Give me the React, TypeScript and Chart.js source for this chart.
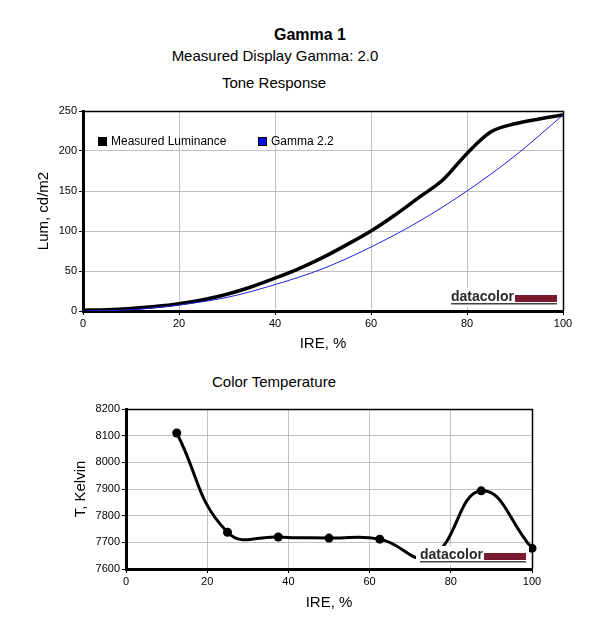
import { useEffect, useRef } from "react";
import Chart from "chart.js/auto";

const FONT = '"Liberation Sans", Arial, sans-serif';

// Tone Response - measured curve (IRE %, cd/m2)
const measuredIre = [0, 5, 10, 15, 20, 25, 30, 35, 40, 45, 50, 55, 60, 65, 70, 75, 80, 85, 90, 95, 100];
const measuredLum = [1, 1.5, 3, 5.5, 9, 14, 21, 30, 41, 53, 67, 83, 100, 120, 142, 164, 197, 224, 234, 240, 245];

// Tone Response - gamma 2.2 target
const gammaIre = [0, 10, 20, 30, 40, 50, 60, 70, 80, 90, 100];
const gammaLum = [0, 1.5, 7.5, 17, 33, 53, 80, 112, 150, 194, 245];

// Color Temperature
const tempIre = [12.5, 25, 37.5, 50, 62.5, 75, 87.5, 100];
const tempKelvin = [8110, 7738, 7720, 7716, 7712, 7645, 7893, 7678];

const toPoints = (xs: number[], ys: number[]) => xs.map((x, i) => ({ x, y: ys[i] }));

// thin black frame on top and right of the plot
const framePlugin = {
  id: "frame",
  beforeDatasetsDraw(chart: any) {
    const { ctx, chartArea: a } = chart;
    ctx.save();
    ctx.strokeStyle = "#000";
    ctx.lineWidth = 1.5;
    ctx.beginPath();
    ctx.moveTo(a.left, a.top + 0.5);
    ctx.lineTo(a.right + 0.5, a.top + 0.5);
    ctx.lineTo(a.right + 0.5, a.bottom);
    ctx.stroke();
    ctx.restore();
  },
};

// "datacolor" mark in the bottom right corner
const logoPlugin = {
  id: "logo",
  afterDatasetsDraw(chart: any) {
    const { ctx, chartArea: a } = chart;
    const r = a.right;
    const b = a.bottom;
    ctx.save();
    ctx.fillStyle = "#fff";
    ctx.fillRect(r - 116, b - 23, 113, 19);
    ctx.fillStyle = "#2a2a2a";
    ctx.font = `bold 14px ${FONT}`;
    ctx.textBaseline = "alphabetic";
    ctx.fillText("datacolor", r - 112, b - 10);
    ctx.fillStyle = "#7a1a2e";
    ctx.fillRect(r - 48, b - 16, 42, 7);
    ctx.fillStyle = "#444";
    ctx.fillRect(r - 112, b - 8, 106, 1.5);
    ctx.restore();
  },
};

const axisFont = { family: FONT, size: 11 };
const titleFont = { family: FONT, size: 15 };
const plainTick = (v: any) => String(v);

const ToneChart = () => {
  const canvasRef = useRef<HTMLCanvasElement>(null);

  useEffect(() => {
    if (!canvasRef.current) return;
    const chart = new Chart(canvasRef.current, {
      type: "line",
      data: {
        datasets: [
          {
            label: "Gamma 2.2",
            data: toPoints(gammaIre, gammaLum),
            borderColor: "#2222dd",
            borderWidth: 1,
            pointRadius: 0,
            cubicInterpolationMode: "monotone",
          },
          {
            label: "Measured Luminance",
            data: toPoints(measuredIre, measuredLum),
            borderColor: "#000",
            borderWidth: 3.5,
            pointRadius: 0,
            cubicInterpolationMode: "monotone",
          },
        ],
      },
      options: {
        animation: false,
        responsive: true,
        maintainAspectRatio: false,
        layout: { padding: { top: 11, right: 37, left: 0, bottom: 0 } },
        plugins: { legend: { display: false }, tooltip: { enabled: false } },
        scales: {
          x: {
            type: "linear",
            min: 0,
            max: 100,
            afterFit: (s: any) => {
              s.height = 49;
            },
            ticks: { stepSize: 20, font: axisFont, color: "#000", padding: 2, maxRotation: 0, callback: plainTick },
            grid: { color: "#c0c0c0", tickColor: "#000", tickLength: 4 },
            border: { color: "#000", width: 3 },
            title: { display: true, text: "IRE, %", font: titleFont, color: "#000", padding: { top: 0, bottom: 7 } },
          },
          y: {
            min: 0,
            max: 250,
            afterFit: (s: any) => {
              s.width = 83;
            },
            ticks: { stepSize: 50, font: axisFont, color: "#000", padding: 2, callback: plainTick },
            grid: { color: "#c0c0c0", tickColor: "#000", tickLength: 4 },
            border: { color: "#000", width: 3 },
            title: { display: true, text: "Lum, cd/m2", font: titleFont, color: "#000", padding: { top: 35, bottom: 0 } },
          },
        },
      },
      plugins: [framePlugin, logoPlugin],
    } as any);
    return () => chart.destroy();
  }, []);

  return (
    <div style={{ position: "absolute", left: 0, top: 100, width: 600, height: 260 }}>
      <canvas ref={canvasRef}></canvas>
    </div>
  );
};

const TempChart = () => {
  const canvasRef = useRef<HTMLCanvasElement>(null);

  useEffect(() => {
    if (!canvasRef.current) return;
    const chart = new Chart(canvasRef.current, {
      type: "line",
      data: {
        datasets: [
          {
            label: "Color Temperature",
            data: toPoints(tempIre, tempKelvin),
            borderColor: "#000",
            borderWidth: 3,
            tension: 0.45,
            pointRadius: 4.5,
            pointBackgroundColor: "#000",
            pointBorderWidth: 0,
            clip: false,
          },
        ],
      },
      options: {
        animation: false,
        responsive: true,
        maintainAspectRatio: false,
        layout: { padding: { top: 14, right: 68, left: 0, bottom: 0 } },
        plugins: { legend: { display: false }, tooltip: { enabled: false } },
        scales: {
          x: {
            type: "linear",
            min: 0,
            max: 100,
            afterFit: (s: any) => {
              s.height = 62;
            },
            ticks: { stepSize: 20, font: axisFont, color: "#000", padding: 2, maxRotation: 0, callback: plainTick },
            grid: { color: "#c0c0c0", tickColor: "#000", tickLength: 4 },
            border: { color: "#000", width: 3 },
            title: { display: true, text: "IRE, %", font: titleFont, color: "#000", padding: { top: 0, bottom: 19 } },
          },
          y: {
            min: 7600,
            max: 8200,
            afterFit: (s: any) => {
              s.width = 126;
            },
            ticks: { stepSize: 100, font: axisFont, color: "#000", padding: 2, callback: plainTick },
            grid: { color: "#c0c0c0", tickColor: "#000", tickLength: 4 },
            border: { color: "#000", width: 3 },
            title: { display: true, text: "T, Kelvin", font: titleFont, color: "#000", padding: { top: 72, bottom: 0 } },
          },
        },
      },
      plugins: [framePlugin, logoPlugin],
    } as any);
    return () => chart.destroy();
  }, []);

  return (
    <div style={{ position: "absolute", left: 0, top: 395, width: 600, height: 236 }}>
      <canvas ref={canvasRef}></canvas>
    </div>
  );
};

const Label = ({ x, y, text, size = 15, bold = false }: { x: number; y: number; text: string; size?: number; bold?: boolean }) => (
  <div
    style={{
      position: "absolute",
      left: x,
      top: y,
      transform: "translate(-50%, -50%)",
      fontFamily: FONT,
      fontSize: size,
      fontWeight: bold ? "bold" : "normal",
      lineHeight: 1,
      whiteSpace: "nowrap",
      color: "#000",
    }}
  >
    {text}
  </div>
);

const LegendItem = ({ x, color, text }: { x: number; color: string; text: string }) => (
  <div style={{ position: "absolute", left: x, top: 135, height: 12, display: "flex", alignItems: "center", fontFamily: FONT, fontSize: 12, whiteSpace: "nowrap" }}>
    <span style={{ display: "inline-block", width: 7, height: 7, background: color, border: "1px solid #000", marginRight: 4 }}></span>
    <span>{text}</span>
  </div>
);

export default function App() {
  return (
    <div style={{ position: "absolute", left: 0, top: 0, width: 600, height: 631, background: "#fff", overflow: "hidden" }}>
      <Label x={310} y={35} text="Gamma 1" size={16} bold />
      <Label x={275} y={55} text="Measured Display Gamma: 2.0" />
      <Label x={274} y={82} text="Tone Response" />
      <ToneChart />
      <LegendItem x={98} color="#000" text="Measured Luminance" />
      <LegendItem x={258} color="#0a0af0" text="Gamma 2.2" />
      <Label x={274} y={381} text="Color Temperature" />
      <TempChart />
    </div>
  );
}
